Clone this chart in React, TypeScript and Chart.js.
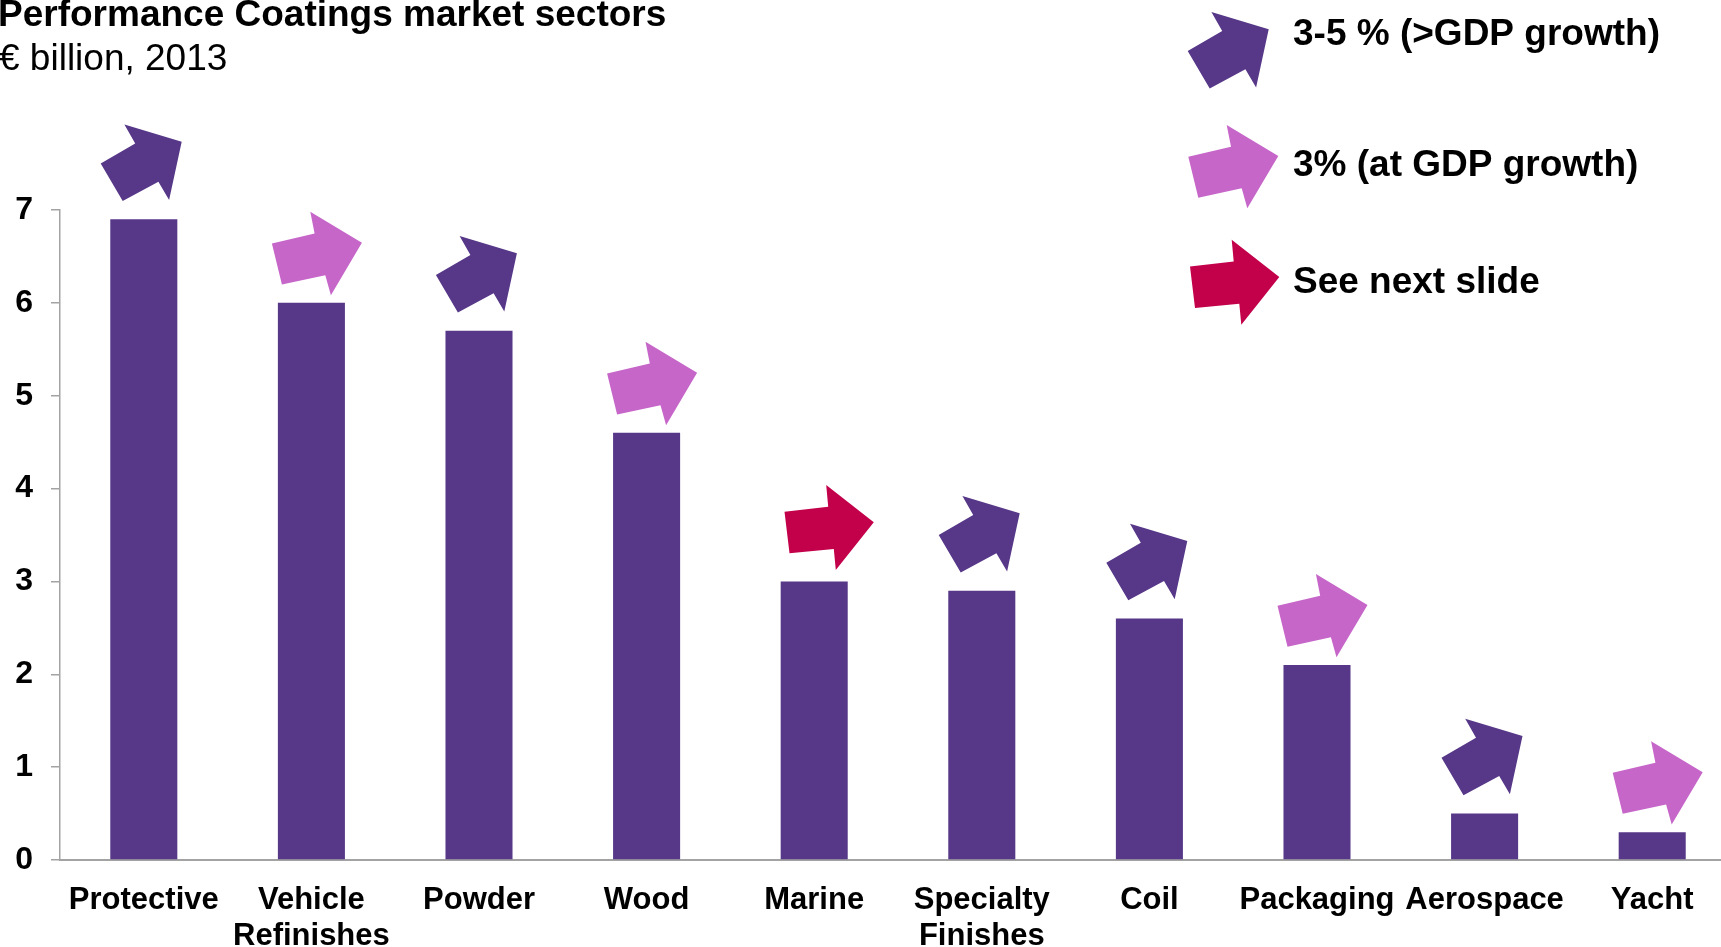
import React, { useEffect, useRef } from 'react';
import { Chart, registerables } from 'chart.js';

Chart.register(...registerables);

const FONT = '"Liberation Sans", Arial, Helvetica, sans-serif';

const titleText = 'Performance Coatings market sectors';
const subtitleText = '€ billion, 2013';

const categories: string[][] = [
  ['Protective'],
  ['Vehicle', 'Refinishes'],
  ['Powder'],
  ['Wood'],
  ['Marine'],
  ['Specialty', 'Finishes'],
  ['Coil'],
  ['Packaging'],
  ['Aerospace'],
  ['Yacht'],
];

const values: number[] = [6.9, 6.0, 5.7, 4.6, 3.0, 2.9, 2.6, 2.1, 0.5, 0.3];

const growth: string[] = ['high', 'gdp', 'high', 'gdp', 'next', 'high', 'high', 'gdp', 'high', 'gdp'];

const legendKeys: string[] = ['high', 'gdp', 'next'];
const legendLabels: string[] = ['3-5 % (>GDP growth)', '3% (at GDP growth)', 'See next slide'];

const yMin = 0;
const yMax = 7;
const yStep = 1;

const BAR_COLOR = '#563788';
const AXIS_COLOR = '#A3A3A3';

type ArrowStyle = { color: string; shape: number[][]; dx: number; dy: number };

const ARROWS: Record<string, ArrowStyle> = {
  high: {
    color: '#563788',
    shape: [[-40.5, 0.7], [-6, -19.3], [-16.8, -38.3], [40.5, -21], [27.9, 37.3], [17.2, 19], [-18.5, 38.3]],
    dx: -2.6,
    dy: -56.5,
  },
  gdp: {
    color: '#C666C9',
    shape: [[-45, -10], [-2.3, -20], [-6.6, -41.7], [45, -10.7], [14, 41.6], [8.4, 21.6], [-35, 31]],
    dx: 5.5,
    dy: -49.3,
  },
  next: {
    color: '#C3004A',
    shape: [[-44.7, -15.8], [-1, -20.8], [-3, -42.5], [44.6, -5.1], [6.6, 42.5], [4.6, 21.5], [-39.7, 25.9]],
    dx: 15,
    dy: -54,
  },
};

const LEGEND_ARROW_POS = [[1228.2, 50.3], [1233.3, 166.7], [1234.7, 282.2]];
const LEGEND_TEXT_X = 1293;
const LEGEND_TEXT_Y = [45, 176, 293];

function drawArrow(ctx: CanvasRenderingContext2D, st: ArrowStyle, cx: number, cy: number) {
  ctx.beginPath();
  st.shape.forEach(([px, py], k) => {
    if (k === 0) ctx.moveTo(cx + px, cy + py);
    else ctx.lineTo(cx + px, cy + py);
  });
  ctx.closePath();
  ctx.fillStyle = st.color;
  ctx.fill();
}

const decorPlugin = {
  id: 'decor',
  afterDraw(chart: any) {
    const ctx: CanvasRenderingContext2D = chart.ctx;
    const xs = chart.scales.x;
    const ys = chart.scales.y;
    ctx.save();
    ctx.textAlign = 'left';
    ctx.textBaseline = 'alphabetic';
    ctx.fillStyle = '#000';
    ctx.font = `bold 37px ${FONT}`;
    ctx.fillText(titleText, -2, 26);
    ctx.font = `37px ${FONT}`;
    ctx.fillText(subtitleText, -1, 70);

    values.forEach((v, i) => {
      const st = ARROWS[growth[i]];
      drawArrow(ctx, st, xs.getPixelForValue(i) + st.dx, ys.getPixelForValue(v) + st.dy);
    });

    legendKeys.forEach((k, i) => {
      const st = ARROWS[k];
      drawArrow(ctx, st, LEGEND_ARROW_POS[i][0], LEGEND_ARROW_POS[i][1]);
      ctx.fillStyle = '#000';
      ctx.font = `bold 37px ${FONT}`;
      ctx.fillText(legendLabels[i], LEGEND_TEXT_X, LEGEND_TEXT_Y[i]);
    });
    ctx.restore();
  },
};

export default function App() {
  const ref = useRef<HTMLCanvasElement | null>(null);

  useEffect(() => {
    if (!ref.current) return;
    const chart = new Chart(ref.current, {
      type: 'bar',
      data: {
        labels: categories,
        datasets: [
          {
            data: values,
            backgroundColor: BAR_COLOR,
            borderWidth: 0,
            categoryPercentage: 1,
            barPercentage: 0.4,
          },
        ],
      },
      options: {
        animation: false,
        responsive: false,
        devicePixelRatio: 1,
        layout: { autoPadding: false, padding: { top: 210, left: 0, right: 4, bottom: 0 } },
        plugins: {
          legend: { display: false },
          tooltip: { enabled: false },
          title: { display: false },
        },
        scales: {
          x: {
            type: 'category',
            offset: true,
            grid: { display: true, drawOnChartArea: false, drawTicks: false },
            border: { display: true, color: AXIS_COLOR, width: 2 },
            ticks: {
              autoSkip: false,
              maxRotation: 0,
              minRotation: 0,
              padding: 22,
              color: '#000',
              font: { family: FONT, size: 31, weight: 'bold', lineHeight: 1.17 },
            },
            afterFit: (scale: any) => {
              scale.height = 87;
            },
          },
          y: {
            min: yMin,
            max: yMax,
            grid: { display: true, drawOnChartArea: false, drawTicks: true, tickLength: 9, color: AXIS_COLOR, lineWidth: 1.5 },
            border: { display: true, color: AXIS_COLOR, width: 1.5 },
            ticks: {
              stepSize: yStep,
              padding: 18,
              color: '#000',
              font: { family: FONT, size: 32, weight: 'bold' },
            },
            afterFit: (scale: any) => {
              scale.width = 60;
            },
          },
        },
      },
      plugins: [decorPlugin],
    } as any);
    return () => chart.destroy();
  }, []);

  return (
    <div
      style={{
        position: 'fixed',
        left: 0,
        top: 0,
        width: 1721,
        height: 947,
        overflow: 'hidden',
        background: '#fff',
      }}
    >
      <canvas ref={ref} width={1740} height={947} style={{ display: 'block', width: 1740, height: 947 }} />
    </div>
  );
}
